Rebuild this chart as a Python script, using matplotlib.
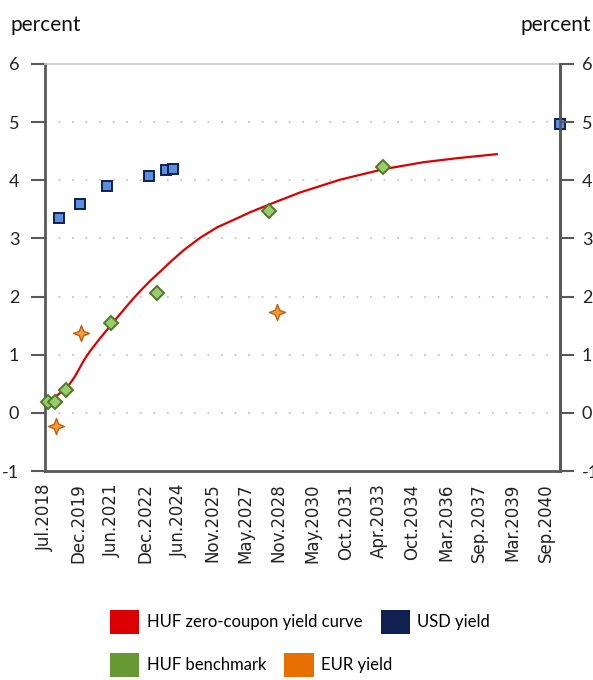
import matplotlib
matplotlib.use("Agg")
import matplotlib.pyplot as plt
from matplotlib.path import Path
from matplotlib.patches import Patch

# ---------------- data ----------------
# x values are decimal years (maturity dates)
curve_x = [2018.62, 2019.06, 2019.50, 2019.86, 2020.26, 2020.52, 2020.96, 2021.49,
           2021.94, 2022.42, 2022.73, 2023.18, 2023.49, 2024.06, 2024.64, 2025.39,
           2026.14, 2027.16, 2027.60, 2028.62, 2029.81, 2031.58, 2033.49, 2035.26,
           2036.76, 2038.53]
curve_y = [0.20, 0.30, 0.43, 0.63, 0.91, 1.06, 1.28, 1.53,
           1.74, 1.96, 2.09, 2.27, 2.38, 2.59, 2.79, 3.01,
           3.19, 3.37, 3.45, 3.61, 3.79, 4.01, 4.19, 4.31,
           4.38, 4.45]

huf_x = [2018.68, 2018.97, 2019.46, 2021.45, 2023.49, 2028.44, 2033.49]
huf_y = [0.195, 0.195, 0.40, 1.54, 2.07, 3.48, 4.22]

usd_x = [2019.16, 2020.08, 2021.26, 2023.15, 2023.87, 2024.18, 2041.29]
usd_y = [3.35, 3.59, 3.90, 4.07, 4.18, 4.19, 4.96]

eur_x = [2019.00, 2020.12, 2028.78]
eur_y = [-0.22, 1.38, 1.73]

tick_labels = ["Jul.2018", "Dec.2019", "Jun.2021", "Dec.2022", "Jun.2024", "Nov.2025",
               "May.2027", "Nov.2028", "May.2030", "Oct.2031", "Apr.2033", "Oct.2034",
               "Mar.2036", "Sep.2037", "Mar.2039", "Sep.2040"]
x_start = 2018.53
x_step = 1.4778
x_end = 2041.29

y_ticks = [-1, 0, 1, 2, 3, 4, 5, 6]

legend_row1 = ["HUF zero-coupon yield curve", "USD yield"]
legend_row1_colors = ["#DD0000", "#0F2150"]
legend_row2 = ["HUF benchmark", "EUR yield"]
legend_row2_colors = ["#669933", "#E87000"]

# ---------------- style ----------------
txt_font = ["Lato", "DejaVu Sans"]
axis_col = "#595959"

star = Path([(0, 1), (0.28, 0.28), (1, 0), (0.28, -0.28), (0, -1),
             (-0.28, -0.28), (-1, 0), (-0.28, 0.28), (0, 1)],
            [Path.MOVETO] + [Path.LINETO] * 7 + [Path.CLOSEPOLY])

fig = plt.figure(figsize=(5.93, 6.80), dpi=100)
ax = fig.add_axes([45 / 593, 1 - 471 / 680, (559.5 - 45) / 593, (471 - 64) / 680])

ax.plot(curve_x, curve_y, color="#DD0000", lw=1.6, zorder=3,
        solid_joinstyle="round", solid_capstyle="round")
ax.plot(huf_x, huf_y, ls="none", marker="D", ms=7.3, mfc="#9BCB6A", mec="#4E7A28",
        mew=1.4, zorder=4, clip_on=False)
ax.plot(usd_x, usd_y, ls="none", marker="s", ms=6.6, mfc="#5B8DE0", mec="#0F2150",
        mew=1.4, zorder=5, clip_on=False)
ax.plot(eur_x, eur_y, ls="none", marker=star, ms=11.5, mfc="#F39A3C", mec="#C0600A",
        mew=1.0, zorder=4, clip_on=False)

ax.set_xlim(x_start, x_end)
ax.set_ylim(-1, 6)
ax.set_xticks([x_start + i * x_step for i in range(len(tick_labels))])
ax.set_xticklabels(tick_labels, rotation=90, fontsize=12, family=["DejaVu Sans"],
                   color="#222222")
ax.tick_params(axis="x", length=0, pad=9)

ax.set_yticks(y_ticks)
ax.set_yticklabels([str(v) for v in y_ticks], fontsize=13, family=txt_font, color="#222222")
ax.tick_params(axis="y", direction="out", length=10, width=1.5, color=axis_col,
               left=True, right=False, labelleft=True, labelright=False, pad=8.5)

# right-hand axis (same scale)
ax2 = ax.twinx()
ax2.set_ylim(ax.get_ylim())
ax2.set_yticks(y_ticks)
ax2.set_yticklabels([str(v) for v in y_ticks], fontsize=13, family=txt_font, color="#222222")
ax2.tick_params(axis="y", direction="out", length=10, width=1.5, color=axis_col, pad=6)
for s in ["left", "top", "bottom"]:
    ax2.spines[s].set_visible(False)
ax2.spines["right"].set_color(axis_col)
ax2.spines["right"].set_linewidth(2)

for v in y_ticks[1:-1]:
    ax.axhline(v, color="#C4C4C4", lw=1.3, ls=(0, (1, 6.5)), zorder=1)

for side in ["left", "right", "bottom"]:
    ax.spines[side].set_color(axis_col)
    ax.spines[side].set_linewidth(2)
ax.spines["top"].set_color("#C8C8C8")
ax.spines["top"].set_linewidth(1.2)

fig.text(10 / 593, 1 - 25 / 680, "percent", fontsize=15, family=txt_font,
         ha="left", va="center", color="#111111")
fig.text(591 / 593, 1 - 25 / 680, "percent", fontsize=15, family=txt_font,
         ha="right", va="center", color="#111111")

for labels, colors, yc in [(legend_row1, legend_row1_colors, 622),
                           (legend_row2, legend_row2_colors, 665)]:
    handles = [Patch(facecolor=c, edgecolor="none", label=l) for l, c in zip(labels, colors)]
    fig.legend(handles=handles, loc="center left", bbox_to_anchor=(110 / 593, 1 - yc / 680),
               ncol=2, frameon=False, prop={"family": txt_font, "size": 12},
               handlelength=1.75, handleheight=1.75, handletextpad=0.45,
               columnspacing=1.1, borderpad=0, borderaxespad=0)

fig.savefig("out.png", dpi=100)
